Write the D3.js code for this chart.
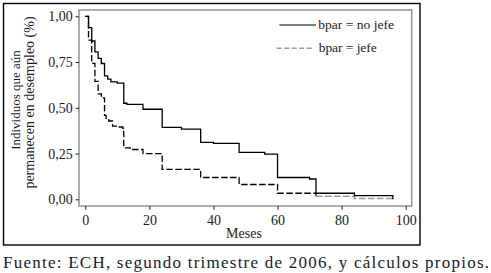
<!DOCTYPE html>
<html>
<head>
<meta charset="utf-8">
<script src="https://cdn.jsdelivr.net/npm/d3@7/dist/d3.min.js"></script>
</head>
<body style="margin:0">
<script>
// ---- data ----
const timesNoJefe = [0, 1, 2, 3, 4, 5, 6, 7, 8, 10, 12, 13, 18, 24, 30, 36, 40, 48, 56, 60, 70, 72, 84, 96];
const survNoJefe  = [1.000, 0.938, 0.865, 0.806, 0.770, 0.742, 0.675, 0.657, 0.642, 0.635, 0.525, 0.519, 0.492, 0.393, 0.384, 0.311, 0.306, 0.256, 0.247, 0.119, 0.111, 0.033, 0.020, 0.000];
const timesJefe = [0, 1, 2, 3, 4, 5, 6, 6.5, 7.3, 8.5, 10.2, 11.7, 12, 14, 18, 24, 36, 48, 60, 72, 84, 96];
const survJefe  = [1.000, 0.870, 0.743, 0.644, 0.576, 0.554, 0.459, 0.443, 0.428, 0.400, 0.395, 0.388, 0.281, 0.272, 0.250, 0.164, 0.119, 0.081, 0.033, 0.016, 0.005, 0.005];
const xTicks = [0, 20, 40, 60, 80, 100];
const yTicks = [0, 0.25, 0.5, 0.75, 1];
const seriesLabels = ["bpar = no jefe", "bpar = jefe"];
const yTitleLines = ["Individuos que aún", "permanecen en desempleo (%)"];
const xTitle = "Meses";
const caption = "Fuente: ECH, segundo trimestre de 2006, y cálculos propios.";

// ---- drawing ----
const FONT = "Liberation Serif";
const INK = "#1a1a2a";
const W = 491, H = 273;
const svg = d3.select("body").append("svg").attr("width", W).attr("height", H)
  .attr("font-family", FONT).style("font-family", FONT);

function txt(sel) {
  return sel.attr("font-family", FONT).style("font-family", FONT).attr("fill", INK);
}

const x = d3.scaleLinear().domain([0, 100]).range([85.3, 405.7]);
const y = d3.scaleLinear().domain([0, 1]).range([199.3, 16.3]);

// outer frame
svg.append("rect").attr("x", 3.5).attr("y", 3.5).attr("width", 416.5).attr("height", 241.5)
  .attr("fill", "none").attr("stroke", "#000").attr("stroke-width", 1.4);

// plot frame
svg.append("rect").attr("x", 79).attr("y", 10).attr("width", 332.7).attr("height", 196)
  .attr("fill", "none").attr("stroke", "#9a9a9a").attr("stroke-width", 1.6);

const fmtY = d => d3.format(".2f")(d).replace(".", ",");

// y axis
const gy = svg.append("g").attr("transform", "translate(79,0)")
  .call(d3.axisLeft(y).tickValues(yTicks).tickFormat(fmtY).tickSize(3.5).tickPadding(3));
gy.attr("font-family", FONT).style("font-family", FONT).attr("font-size", 14);
gy.select(".domain").remove();
gy.selectAll(".tick line").attr("stroke", "#222").attr("stroke-width", 1);
txt(gy.selectAll(".tick text")).attr("font-size", 14).attr("x", -6.3);

// x axis
const gx = svg.append("g").attr("transform", "translate(0,206)")
  .call(d3.axisBottom(x).tickValues(xTicks).tickFormat(d3.format("d")).tickSize(3.8));
gx.attr("font-family", FONT).style("font-family", FONT).attr("font-size", 14);
gx.select(".domain").remove();
gx.selectAll(".tick line").attr("stroke", "#222").attr("stroke-width", 1);
txt(gx.selectAll(".tick text")).attr("font-size", 14).attr("y", 18.5).attr("dy", 0);

// curves
const line = d3.line().x(d => x(d[0])).y(d => y(d[1])).curve(d3.curveStepAfter);
const solidData = timesNoJefe.map((t, i) => [t, survNoJefe[i]]);
const dashData = timesJefe.map((t, i) => [t, survJefe[i]]);
const dashBlack = dashData.filter(d => d[0] <= 72);
const dashGray = dashData.filter(d => d[0] >= 72);

svg.append("path").datum(dashBlack).attr("d", line).attr("fill", "none")
  .attr("stroke", "#000").attr("stroke-width", 1.3).attr("stroke-dasharray", "6.5,2.5");
svg.append("path").datum(dashGray).attr("d", line).attr("fill", "none")
  .attr("stroke", "#999").attr("stroke-width", 1.5).attr("stroke-dasharray", "6.5,2.5");
svg.append("path").datum(solidData).attr("d", line).attr("fill", "none")
  .attr("stroke", "#000").attr("stroke-width", 1.3);

// legend
svg.append("line").attr("x1", 279.3).attr("x2", 316).attr("y1", 25).attr("y2", 25)
  .attr("stroke", "#000").attr("stroke-width", 1.1);
txt(svg.append("text")).attr("x", 318.3).attr("y", 28.5).attr("font-size", 13.5)
  .attr("textLength", 75.7).attr("lengthAdjust", "spacing").text(seriesLabels[0]);
svg.append("line").attr("x1", 276.7).attr("x2", 314).attr("y1", 48.3).attr("y2", 48.3)
  .attr("stroke", "#999").attr("stroke-width", 1.4).attr("stroke-dasharray", "5,2.5");
txt(svg.append("text")).attr("x", 318.7).attr("y", 51.8).attr("font-size", 13.5)
  .attr("textLength", 58).attr("lengthAdjust", "spacing").text(seriesLabels[1]);

// y title
txt(svg.append("text")).attr("transform", "translate(19.5,100) rotate(-90)")
  .attr("text-anchor", "middle").attr("font-size", 13).text(yTitleLines[0]);
txt(svg.append("text")).attr("transform", "translate(33.5,102.5) rotate(-90)")
  .attr("text-anchor", "middle").attr("font-size", 14).text(yTitleLines[1]);

// x title
txt(svg.append("text")).attr("x", 244).attr("y", 237.7).attr("text-anchor", "middle")
  .attr("font-size", 14).text(xTitle);

// caption
txt(svg.append("text")).attr("x", 3).attr("y", 268.3).attr("font-size", 17)
  .attr("textLength", 486).attr("lengthAdjust", "spacing").text(caption);
</script>
</body>
</html>
